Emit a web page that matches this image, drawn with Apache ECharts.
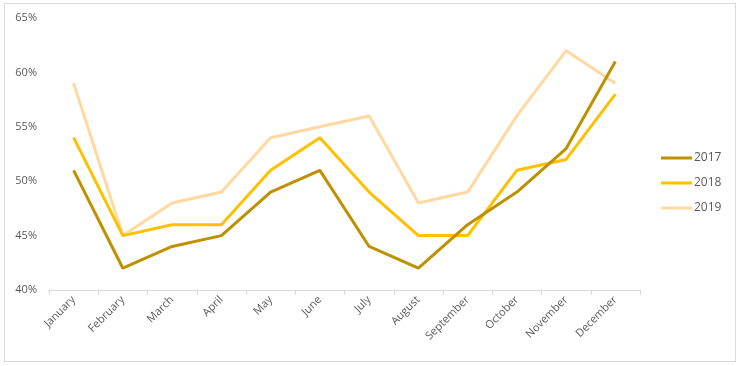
<!DOCTYPE html>
<html><head><meta charset="utf-8">
<script src="https://cdn.jsdelivr.net/npm/echarts@6/dist/echarts.min.js"></script>
<style>
html,body{margin:0;padding:0;background:#fff;}
#frame{position:absolute;left:4px;top:3px;width:732px;height:359px;border:1px solid #D9D9D9;box-sizing:border-box;}
#c{position:absolute;left:0;top:0;width:740px;height:366px;}
</style></head>
<body><div id="frame"></div><div id="c"></div>
<script>
const months = ['January','February','March','April','May','June','July','August','September','October','November','December'];
const s2017 = [51,42,44,45,49,51,44,42,46,49,53,61];
const s2018 = [54,45,46,46,51,54,49,45,45,51,52,58];
const s2019 = [59,45,48,49,54,55,56,48,49,56,62,59];
const seriesNames = ['2017','2018','2019'];
const colors = ['#BF9000','#FFC000','#FFD9A0'];
const chart = echarts.init(document.getElementById('c'), null, {renderer:'canvas'});
const mk = (name, data, color, z) => ({name, type:'line', data, symbol:'none', z,
  lineStyle:{color, width:3}, itemStyle:{color}});
chart.setOption({
  animation:false,
  textStyle:{fontFamily:'Open Sans'},
  grid:{left:49,right:100,top:18,bottom:76},
  legend:{orient:'vertical',left:656,top:147,itemGap:13,itemWidth:31,itemHeight:3,
    icon:'rect',data:seriesNames,textStyle:{color:'#595959',fontSize:12,fontFamily:'Open Sans',padding:[0,0,0,-3]}},
  xAxis:{type:'category',data:months,boundaryGap:true,
    axisLine:{lineStyle:{color:'#D9D9D9',width:1}},
    axisTick:{show:true,alignWithLabel:false,length:5,lineStyle:{color:'#D9D9D9'}},
    axisLabel:{rotate:45,color:'#595959',fontSize:11,margin:8,interval:0}},
  yAxis:{type:'value',min:40,max:65,interval:5,
    axisLine:{show:false},axisTick:{show:false},splitLine:{show:false},
    axisLabel:{formatter:'{value}%',color:'#595959',fontSize:11,margin:12}},
  series:[mk('2019',s2019,colors[2],1),mk('2018',s2018,colors[1],2),mk('2017',s2017,colors[0],3)]
});
</script></body></html>
